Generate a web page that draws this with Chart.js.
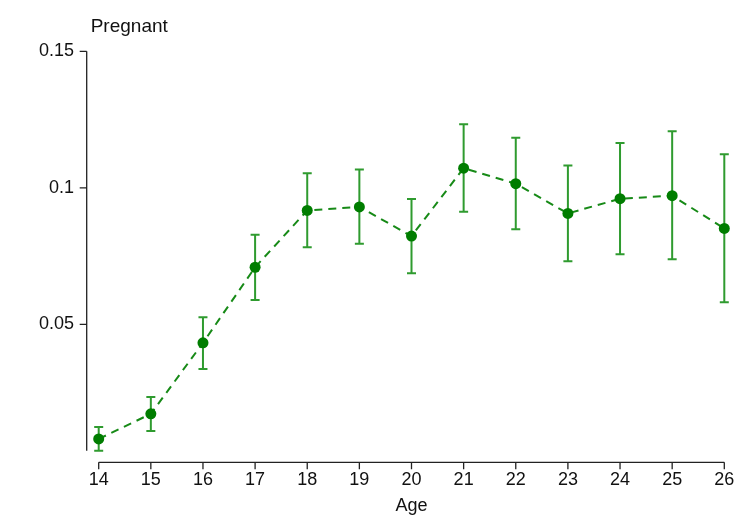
<!DOCTYPE html>
<html>
<head>
<meta charset="utf-8">
<script src="https://cdn.jsdelivr.net/npm/chart.js@4.4.1/dist/chart.umd.min.js"></script>
<style>
  html, body { margin:0; padding:0; background:#fff; }
  #wrap { width:744px; height:531px; }
</style>
</head>
<body>
<div id="wrap"><canvas id="chart" width="744" height="531"></canvas></div>
<script>
/* data */
const ages      = [14, 15, 16, 17, 18, 19, 20, 21, 22, 23, 24, 25, 26];
const pregnant  = [0.0080, 0.0172, 0.0432, 0.0709, 0.0917, 0.0930, 0.0823, 0.1072, 0.1015, 0.0906, 0.0960, 0.0971, 0.0851];
const ciLow     = [0.0037, 0.0109, 0.0336, 0.0589, 0.0782, 0.0795, 0.0687, 0.0912, 0.0848, 0.0731, 0.0757, 0.0738, 0.0581];
const ciHigh    = [0.0124, 0.0234, 0.0526, 0.0828, 0.1053, 0.1067, 0.0959, 0.1233, 0.1183, 0.1082, 0.1164, 0.1207, 0.1123];
const yTicks      = [0.05, 0.1, 0.15];
const yTickLabels = ['0.05', '0.1', '0.15'];

const FONT = "'Liberation Sans', Arial, Helvetica, sans-serif";
const AXIS = '#222';
const GREEN = '#007d00';
const LINE_GREEN = '#178a17';
const BAR_GREEN = '#2f9b2f';

Chart.defaults.font.family = FONT;
Chart.defaults.font.size = 18;
Chart.defaults.color = '#111';

/* error bars, drawn under the markers */
const errorBars = {
  id: 'errorBars',
  beforeDatasetsDraw(chart){
    const { ctx, scales:{ x, y } } = chart;
    ctx.save();
    ctx.strokeStyle = BAR_GREEN;
    ctx.lineWidth = 2;
    ages.forEach((a,i)=>{
      const px = x.getPixelForValue(a);
      const lo = y.getPixelForValue(ciLow[i]);
      const hi = y.getPixelForValue(ciHigh[i]);
      ctx.beginPath();
      ctx.moveTo(px, lo); ctx.lineTo(px, hi);
      ctx.moveTo(px-4.5, lo); ctx.lineTo(px+4.5, lo);
      ctx.moveTo(px-4.5, hi); ctx.lineTo(px+4.5, hi);
      ctx.stroke();
    });
    ctx.restore();
  }
};

/* detached Stata-style axis lines + y title */
const stataAxes = {
  id: 'stataAxes',
  afterDraw(chart){
    const { ctx, chartArea, scales:{ x, y } } = chart;
    ctx.save();
    ctx.strokeStyle = AXIS;
    ctx.lineWidth = 1.3;
    const ax = chartArea.left - 12;
    const ay = chartArea.bottom + 11.6;
    ctx.beginPath();
    ctx.moveTo(ax, y.getPixelForValue(y.max));
    ctx.lineTo(ax, y.getPixelForValue(y.min));
    yTicks.forEach(v=>{
      const py = y.getPixelForValue(v);
      ctx.moveTo(ax, py); ctx.lineTo(ax-7, py);
    });
    ctx.moveTo(x.getPixelForValue(x.min), ay);
    ctx.lineTo(x.getPixelForValue(x.max), ay);
    ages.forEach(a=>{
      const px = x.getPixelForValue(a);
      ctx.moveTo(px, ay); ctx.lineTo(px, ay+7);
    });
    ctx.stroke();

    ctx.fillStyle = '#111';
    ctx.font = '19px ' + FONT;
    ctx.textAlign = 'left';
    ctx.textBaseline = 'alphabetic';
    ctx.fillText('Pregnant', ax + 4, 31.7);
    ctx.restore();
  }
};

new Chart(document.getElementById('chart'), {
  type: 'line',
  data: {
    datasets: [{
      data: ages.map((a,i)=>({ x:a, y:pregnant[i] })),
      borderColor: LINE_GREEN,
      borderWidth: 2,
      borderDash: [8,6],
      pointRadius: 5.5,
      pointBackgroundColor: GREEN,
      pointBorderColor: GREEN,
      pointBorderWidth: 0,
      fill: false,
      tension: 0,
      clip: false,
    }],
  },
  options: {
    responsive: false,
    animation: false,
    layout: { padding: { top: 51.3, right: 19.7, left: 0, bottom: 0 } },
    plugins: { legend:{ display:false }, tooltip:{ enabled:false } },
    scales: {
      x: {
        type: 'linear',
        min: 14, max: 26,
        grid: { display:false, drawTicks:false },
        border: { display:false },
        ticks: { stepSize:1, padding:19, color:'#111', maxRotation:0 },
        title: { display:true, text:'Age', color:'#111', font:{ size:18 }, padding:{ top:0, bottom:14 } },
        afterFit(scale){ scale.height = 80.3; scale.paddingLeft = 0; scale.paddingRight = 0; },
      },
      y: {
        min: 0.0037, max: 0.15,
        grid: { display:false, drawTicks:false },
        border: { display:false },
        afterBuildTicks(scale){ scale.ticks = yTicks.map(v=>({ value:v })); },
        ticks: {
          padding: 24.7,
          color: '#111',
          callback: v => yTickLabels[yTicks.indexOf(v)] ?? '',
        },
        afterFit(scale){ scale.width = 98.7; scale.paddingTop = 0; scale.paddingBottom = 0; },
      },
    },
  },
  plugins: [errorBars, stataAxes],
});
</script>
</body>
</html>
